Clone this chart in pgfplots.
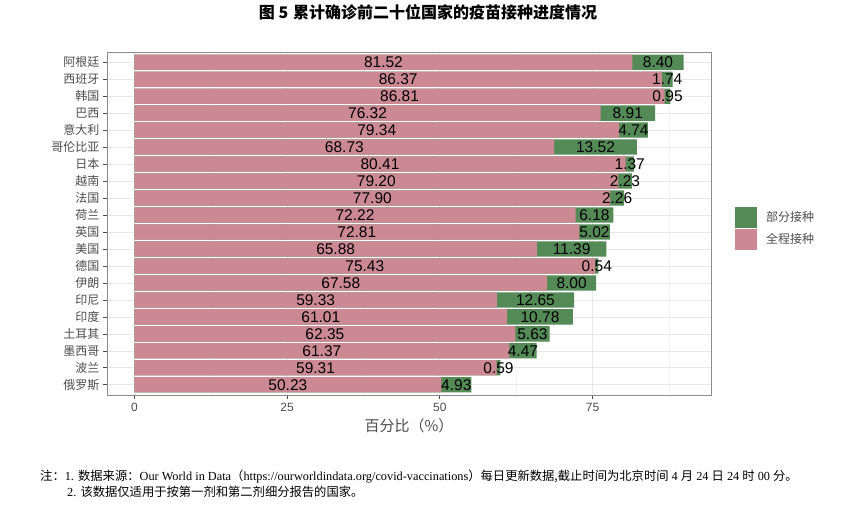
\documentclass[border=0pt]{standalone}
\usepackage{pgfplots}
\pgfplotsset{compat=1.18}
\usepackage{pgfplotstable}
\usepackage{fontspec}
\setmainfont{Liberation Serif}
\newfontfamily\cjk{Noto Sans CJK SC}
\newfontfamily\arial{Liberation Sans}
\definecolor{partc}{RGB}{84,138,86}
\definecolor{fullc}{RGB}{204,137,147}
\definecolor{gridc}{RGB}{232,232,232}
\definecolor{gridm}{RGB}{242,242,242}
\definecolor{txtc}{RGB}{77,77,77}
\definecolor{bordc}{RGB}{140,140,140}

\pgfplotstableread{
y name full part
1 俄罗斯 50.23 4.93
2 波兰 59.31 0.59
3 墨西哥 61.37 4.47
4 土耳其 62.35 5.63
5 印度 61.01 10.78
6 印尼 59.33 12.65
7 伊朗 67.58 8.00
8 德国 75.43 0.54
9 美国 65.88 11.39
10 英国 72.81 5.02
11 荷兰 72.22 6.18
12 法国 77.90 2.26
13 越南 79.20 2.23
14 日本 80.41 1.37
15 哥伦比亚 68.73 13.52
16 意大利 79.34 4.74
17 巴西 76.32 8.91
18 韩国 86.81 0.95
19 西班牙 86.37 1.74
20 阿根廷 81.52 8.40
}\data

\begin{document}
\begin{tikzpicture}
\path[use as bounding box] (0,0) rectangle (854bp,514bp);
\begin{axis}[
  at={(107bp,119bp)}, anchor=south west, scale only axis,
  width=604bp, height=343bp,
  xmin=-4.5, xmax=94.4, ymin=0.4, ymax=20.6,
  bar width=0.9,
  ytick={1,...,20}, yticklabels from table={\data}{name},
  xtick={0,25,50,75}, minor xtick={12.5,37.5,62.5,87.5},
  xmajorgrids, xminorgrids, ymajorgrids,
  major grid style={gridc, line width=0.7bp},
  minor grid style={gridm, line width=0.5bp},
  axis line style={bordc, line width=0.8bp},
  tick style={txtc, line width=0.7bp},
  major tick length=4bp, minor tick length=0pt, tick align=outside,
  tick pos=left,
  yticklabel style={font=\cjk\fontsize{12bp}{14bp}\selectfont, text=txtc},
  xticklabel style={font=\arial\fontsize{12bp}{14bp}\selectfont, text=txtc, yshift=-1bp},
  /pgf/number format/assume math mode=true,
  xlabel={百分比（\%）},
  xlabel style={font=\cjk\fontsize{15bp}{17bp}\selectfont, text=txtc, yshift=0bp},
  legend style={at={(1.0397,0.486)}, anchor=west, draw=none, fill=none,
    inner sep=0pt, row sep=1bp, column sep=9bp,
    font=\cjk\fontsize{12bp}{14bp}\selectfont, text=txtc,
    nodes={inner sep=0pt}},
  legend cell align=left,
  legend image code/.code={\fill[#1] (0bp,-10.5bp) rectangle (22bp,10.5bp);},
]
\addlegendimage{fill=partc, draw=none}
\addlegendentry{部分接种}
\addlegendimage{fill=fullc, draw=none}
\addlegendentry{全程接种}
\addplot[xbar, bar shift=0pt, fill=partc, draw=none, forget plot]
  table[x expr=\thisrow{full}+\thisrow{part}, y=y] {\data};
\addplot[xbar, bar shift=0pt, fill=fullc, draw=none, forget plot]
  table[x=full, y=y] {\data};
\addplot[only marks, mark=none, forget plot, nodes near coords,
  point meta=explicit symbolic,
  nodes near coords style={anchor=center, inner sep=0pt, font=\arial\fontsize{15.5bp}{17bp}\selectfont, text=black}]
  table[x expr=\thisrow{full}/2, y=y, meta=full] {\data};
\addplot[only marks, mark=none, forget plot, nodes near coords,
  point meta=explicit symbolic,
  nodes near coords style={anchor=center, inner sep=0pt, font=\arial\fontsize{15.5bp}{17bp}\selectfont, text=black}]
  table[x expr=\thisrow{full}+\thisrow{part}/2, y=y, meta=part] {\data};
\end{axis}
\node[font=\cjk\bfseries\fontsize{16bp}{18bp}\selectfont, anchor=center] at (428bp,502bp) {图 5\hspace{0.3em}累计确诊前二十位国家的疫苗接种进度情况};
\node[anchor=west, inner sep=0pt, font=\fontsize{12.3bp}{14bp}\selectfont] at (40bp,37bp)
  {{\cjk 注：}1. {\cjk 数据来源：}Our World in Data{\cjk （}https://ourworldindata.org/covid-vaccinations{\cjk ）每日更新数据,截止时间为北京时间} 4 {\cjk 月} 24 {\cjk 日} 24 {\cjk 时} 00 {\cjk 分。}};
\node[anchor=west, inner sep=0pt, font=\fontsize{12.3bp}{14bp}\selectfont] at (67bp,22bp)
  {2. {\cjk 该数据仅适用于按第一剂和第二剂细分报告的国家。}};
\end{tikzpicture}
\end{document}
